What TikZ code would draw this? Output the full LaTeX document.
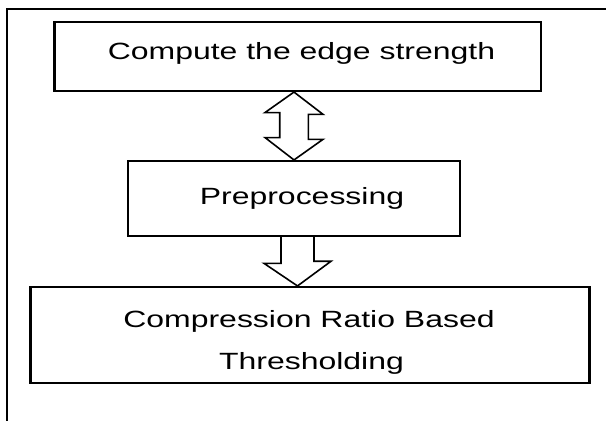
\documentclass[tikz,border=0pt]{standalone}
\usepackage{fontspec}
\setmainfont{Liberation Sans}[FakeStretch=1.36]
\usetikzlibrary{calc}
\begin{document}
\begin{tikzpicture}[x=1pt,y=-1pt,
  box/.style={draw=black,line width=2.1pt,inner sep=0pt,fill=white},
  lbl/.style={inner sep=0pt,anchor=base,font=\fontsize{23.5}{28}\selectfont},
  blockarrow/.style={draw=black,line width=1.6pt,line join=miter}]
\useasboundingbox (0,0) rectangle (606,421);
\fill[white] (0,0) rectangle (606,421);
\draw[line width=1.5pt] (606,9) -- (7,9) -- (7,421);
\node[box,minimum width=486.5pt,minimum height=69.3pt] (b1) at (297.75,56.35) {};
\node[box,minimum width=332.4pt,minimum height=75pt] (b2) at (293.8,198.5) {};
\node[box,minimum width=559pt,minimum height=95.7pt] (b3) at (310,334.85) {};
\node[lbl] (t1) at (301.5,59.3) {Compute the edge strength};
\node[lbl] (t2) at (302,204.3) {Preprocessing};
\node[lbl] (t3a) at (309,327.3) {Compression Ratio Based};
\node[lbl] (t3b) at (311.5,369.5) {Thresholding};
\coordinate (a1s) at (294,0 |- b1.south);
\coordinate (a1e) at (294,0 |- b2.north);
\draw[blockarrow] (a1s) -- ++(29,22.3) -- ++(-14.7,0) -- ++(0,25) -- ++(14.7,0)
  -- (a1e) -- ++(-29,-22.4) -- ++(14.7,0) -- ++(0,-25) -- ++(-14.7,0) -- cycle;
\coordinate (a2l) at (281,0 |- b2.south);
\coordinate (a2r) at (314,0 |- b2.south);
\coordinate (a2e) at (297.5,0 |- b3.north);
\draw[blockarrow] (a2l) -- ++(0,26.3) -- ++(-17,0) -- (a2e) -- ++(33.5,-24.7) -- ++(-17,0) -- (a2r);
\end{tikzpicture}
\end{document}
